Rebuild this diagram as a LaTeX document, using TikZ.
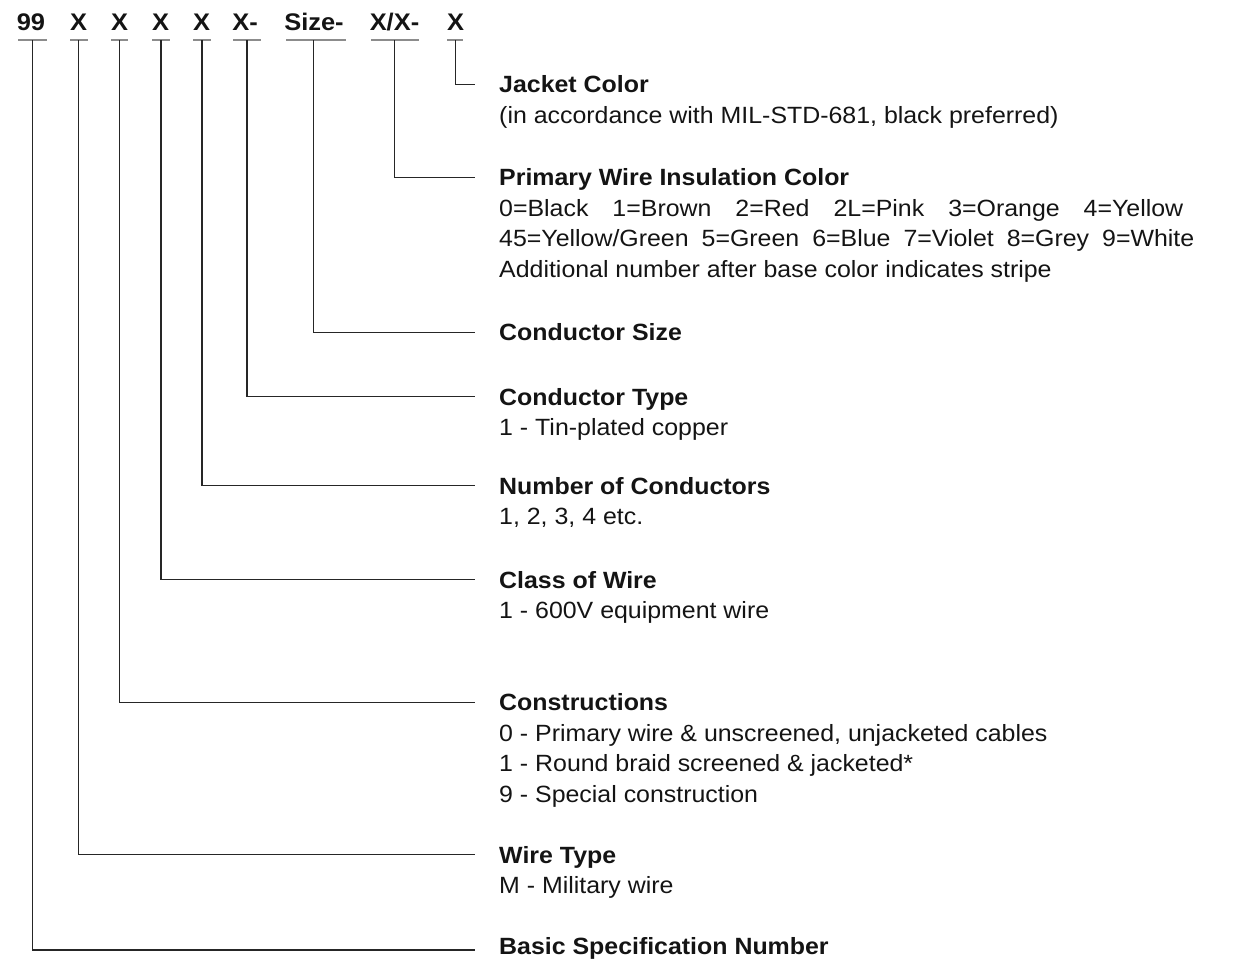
\documentclass[tikz,border=0pt]{standalone}
\usepackage{fontspec}
\setmainfont{Liberation Sans}[FakeStretch=1.06]
\begin{document}
\begin{tikzpicture}[x=1pt,y=-1pt,
  hdr/.style={anchor=base,inner sep=0,text=black!92,font=\fontsize{24}{28}\selectfont\bfseries},
  ttl/.style={anchor=base west,inner sep=0,text=black!92,font=\fontsize{23.5}{28}\selectfont\bfseries},
  bdy/.style={anchor=base west,inner sep=0,text=black!92,font=\fontsize{23.5}{28}\selectfont},
  conn/.style={draw=black!85,line width=1.1pt},
  uline/.style={draw=black!45,line width=1.2pt}]
\useasboundingbox (0,0) rectangle (1258,959);
% header
\node[hdr] (h1) at (31,30) {99};
\node[hdr] (h2) at (78.5,30) {X};
\node[hdr] (h3) at (119.5,30) {X};
\node[hdr] (h4) at (160.5,30) {X};
\node[hdr] (h5) at (201.5,30) {X};
\node[hdr] (h6) at (245,30) {X-};
\node[hdr] (h7) at (314,30) {Size-};
\node[hdr] (h8) at (394.5,30) {X/X-};
\node[hdr] (h9) at (455.5,30) {X};
% underlines
\draw[uline] (18,40) -- (47,40);
\draw[uline] (70,40) -- (88,40);
\draw[uline] (111,40) -- (128,40);
\draw[uline] (152,40) -- (170,40);
\draw[uline] (193,40) -- (211,40);
\draw[uline] (233,40) -- (261,40);
\draw[uline] (286,40) -- (346,40);
\draw[uline] (371,40) -- (419,40);
\draw[uline] (447,40) -- (463,40);
\coordinate (u1) at (32.5,40);
\coordinate (u2) at (78.5,40);
\coordinate (u3) at (119.5,40);
\coordinate (u4) at (161,40);
\coordinate (u5) at (202,40);
\coordinate (u6) at (247,40);
\coordinate (u7) at (313.5,40);
\coordinate (u8) at (394.5,40);
\coordinate (u9) at (455.5,40);
% labels
\node[ttl] (t9) at (499,92.5) {Jacket Color};
\node[bdy] (b9a) at (499,123) {(in accordance with MIL-STD-681, black preferred)};
\node[ttl] (t8) at (499,185.5) {Primary Wire Insulation Color};
\node[bdy] (b8a) at (499,216) {0=Black\hspace{24pt}1=Brown\hspace{24pt}2=Red\hspace{24pt}2L=Pink\hspace{24pt}3=Orange\hspace{24pt}4=Yellow};
\node[bdy] (b8b) at (499,246.7) {45=Yellow/Green\hspace{13pt}5=Green\hspace{13pt}6=Blue\hspace{13pt}7=Violet\hspace{13pt}8=Grey\hspace{13pt}9=White};
\node[bdy] (b8c) at (499,277.3) {Additional number after base color indicates stripe};
\node[ttl] (t7) at (499,340.5) {Conductor Size};
\node[ttl] (t6) at (499,405) {Conductor Type};
\node[bdy] (b6a) at (499,435.5) {1 - Tin-plated copper};
\node[ttl] (t5) at (499,494) {Number of Conductors};
\node[bdy] (b5a) at (499,524.5) {1, 2, 3, 4 etc.};
\node[ttl] (t4) at (499,588) {Class of Wire};
\node[bdy] (b4a) at (499,618.5) {1 - 600V equipment wire};
\node[ttl] (t3) at (499,710.5) {Constructions};
\node[bdy] (b3a) at (499,741) {0 - Primary wire \& unscreened, unjacketed cables};
\node[bdy] (b3b) at (499,771.5) {1 - Round braid screened \& jacketed*};
\node[bdy] (b3c) at (499,802) {9 - Special construction};
\node[ttl] (t2) at (499,863) {Wire Type};
\node[bdy] (b2a) at (499,893.5) {M - Military wire};
\node[ttl] (t1) at (499,954) {Basic Specification Number};
% connectors
\foreach \i in {2,...,9}{
  \draw[conn] (u\i) |- ([xshift=-24pt,yshift=8.3pt]t\i.base west);
}
\draw[conn] (u1) |- ([xshift=-24pt,yshift=4pt]t1.base west);
\end{tikzpicture}
\end{document}
